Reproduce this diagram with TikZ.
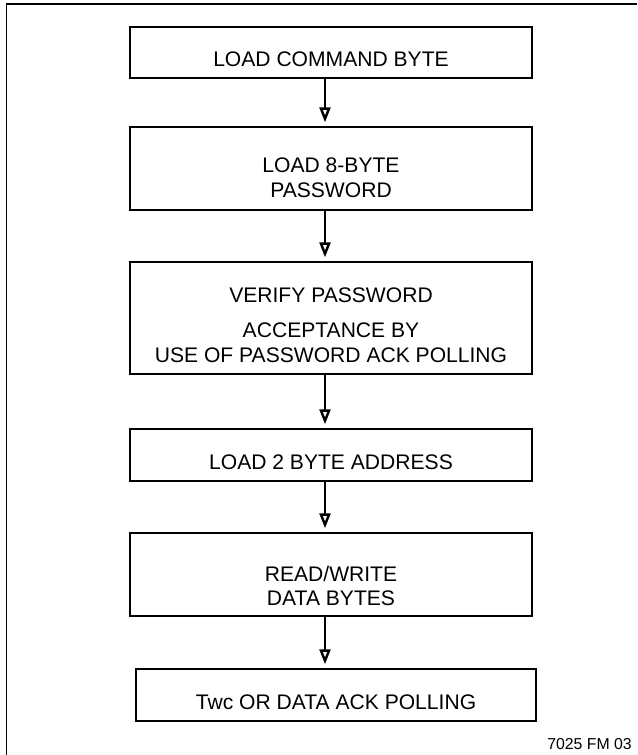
\documentclass[tikz,border=0pt]{standalone}
\usepackage{fontspec}
\setmainfont{Liberation Sans}
\usetikzlibrary{arrows.meta}

\begin{document}
\begin{tikzpicture}[
    x=0.02cm, y=-0.02cm,
    stepbox/.style={rectangle, draw, line width=0.8pt, minimum width=8.04cm, inner sep=0pt},
    steptext/.style={align=center, inner sep=0pt, yshift=-0.14cm,
        font=\fontsize{12}{14}\selectfont},
    arrow/.style={line width=0.6pt,
        -{Triangle[open, length=0.3cm, width=0.22cm, line width=1.4pt]},
        shorten >=0.08cm}
]
    \useasboundingbox (0,0) rectangle (637,755);

    % frame
    \draw[line width=1.1pt] (6.5,755) -- (6.5,4) -- (637,4);

    \node[stepbox, minimum height=1.02cm,
        label={[steptext]center:LOAD COMMAND BYTE}] (cmd) at (331,52.5) {};
    \node[stepbox, minimum height=1.66cm,
        label={[steptext, yshift=-0.04cm]center:{LOAD 8-BYTE\\ PASSWORD}}] (pwd) at (331,168.5) {};
    \node[stepbox, minimum height=2.24cm,
        label={[steptext]center:{VERIFY PASSWORD\\[6pt] ACCEPTANCE BY\\ USE OF PASSWORD ACK POLLING}}] (verify) at (331,318) {};
    \node[stepbox, minimum height=1.04cm,
        label={[steptext]center:LOAD 2 BYTE ADDRESS}] (addr) at (331,455) {};
    \node[stepbox, minimum height=1.66cm,
        label={[steptext, yshift=-0.09cm]center:{READ/WRITE\\ DATA BYTES}}] (data) at (331,574.5) {};
    \node[stepbox, minimum height=1.04cm, minimum width=8cm,
        label={[steptext]center:Twc OR DATA ACK POLLING}] (poll) at (336,695) {};

    \draw[arrow] ([xshift=-0.12cm]cmd.south) -- ([xshift=-0.12cm]cmd.south |- pwd.north);
    \draw[arrow] ([xshift=-0.12cm]pwd.south) -- ([xshift=-0.12cm]pwd.south |- verify.north);
    \draw[arrow] ([xshift=-0.12cm]verify.south) -- ([xshift=-0.12cm]verify.south |- addr.north);
    \draw[arrow] ([xshift=-0.12cm]addr.south) -- ([xshift=-0.12cm]addr.south |- data.north);
    \draw[arrow] ([xshift=-0.12cm]data.south) -- ([xshift=-0.12cm]data.south |- poll.north);

    \node[anchor=base west, inner sep=0pt, font=\fontsize{9}{10}\selectfont] (fig) at (547,749) {7025 FM 03};
\end{tikzpicture}
\end{document}
